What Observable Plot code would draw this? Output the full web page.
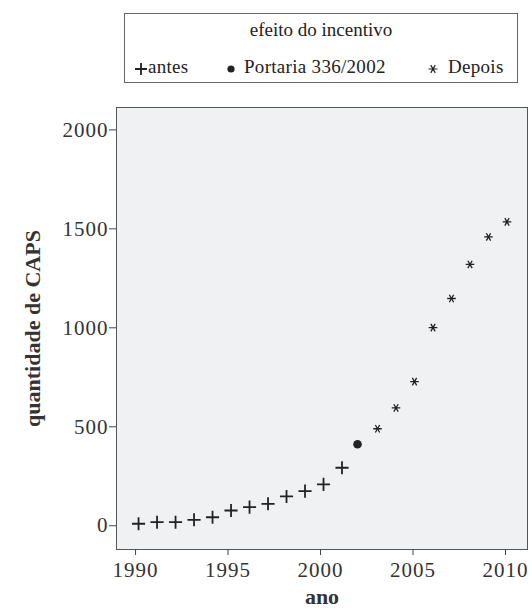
<!DOCTYPE html>
<html>
<head>
<meta charset="utf-8">
<script src="https://cdn.jsdelivr.net/npm/d3@7"></script>
<script src="https://cdn.jsdelivr.net/npm/@observablehq/plot@0.6"></script>
<style>
  body { margin: 0; background: #fff; font-family: "Liberation Serif", "DejaVu Serif", serif; }
  #wrap { position: relative; width: 532px; height: 612px; }
  #legend { position: absolute; left: 124px; top: 13px; width: 394px; height: 70px; box-sizing: border-box;
            border: 1px solid #666; color: #222; font-size: 19px; }
  #legend .title { position: absolute; left: 0; right: 0; top: 5px; text-align: center; }
  #legend .item { position: absolute; top: 42px; white-space: nowrap; letter-spacing: 0.3px; }
  #legend svg { vertical-align: middle; }
  #chart { position: absolute; left: 0; top: 90px; }
  #chart svg g[aria-label$="tick label"] text { letter-spacing: 1px; }
</style>
</head>
<body>
<div id="wrap">
  <div id="legend"></div>
  <div id="chart"></div>
</div>
<script>
// ---- data ----
const legendTitle = "efeito do incentivo";
const groupNames = ["antes", "Portaria 336/2002", "Depois"];

const anosAntes = [1990, 1991, 1992, 1993, 1994, 1995, 1996, 1997, 1998, 1999, 2000, 2001];
const capsAntes = [10, 18, 18, 30, 43, 77, 94, 111, 148, 175, 209, 293];

const anosPortaria = [2002];
const capsPortaria = [412];

const anosDepois = [2003, 2004, 2005, 2006, 2007, 2008, 2009, 2010];
const capsDepois = [490, 595, 728, 1001, 1148, 1320, 1459, 1535];

const xTicks = [1990, 1995, 2000, 2005, 2010];
const yTicks = [0, 500, 1000, 1500, 2000];
const xLabel = "ano";
const yLabel = "quantidade de CAPS";

// ---- build tables ----
const rows = (xs, ys) => xs.map((x, i) => ({ano: x, caps: ys[i]}));
const antes = rows(anosAntes, capsAntes);
const portaria = rows(anosPortaria, capsPortaria);
const depois = rows(anosDepois, capsDepois);

// custom star symbol: horizontal bar with two diagonals
const star = {
  draw(context, size) {
    const r = Math.sqrt(size / Math.PI);
    const c = r * 0.5, s = r * Math.sqrt(3) / 2;
    context.moveTo(-r, 0); context.lineTo(r, 0);
    context.moveTo(-c, -s); context.lineTo(c, s);
    context.moveTo(-c, s); context.lineTo(c, -s);
  }
};

const ink = "#222";
const font = '"Liberation Serif", "DejaVu Serif", serif';

const chart = Plot.plot({
  width: 532,
  height: 522,
  marginTop: 17,
  marginBottom: 63,
  marginLeft: 116,
  marginRight: 5,
  style: {fontFamily: font, fontSize: "21px", color: "#333", background: "transparent"},
  x: {domain: [1988.97, 2011.19], label: null},
  y: {domain: [-120, 2113], label: null},
  marks: [
    Plot.frame({fill: "#f0f1f3", stroke: "#555", strokeWidth: 1}),
    Plot.axisX({ticks: xTicks, tickFormat: "d", tickSize: 6, tickPadding: 7, stroke: "#444", fill: "#333", label: null}),
    Plot.axisY({ticks: yTicks, tickFormat: "d", tickSize: 7, tickPadding: 1, stroke: "#444", fill: "#333", label: null}),
    Plot.dot(antes, {x: "ano", y: "caps", symbol: "plus", r: 4.3, stroke: ink, strokeWidth: 1.8, fill: "none", dx: 3}),
    Plot.dot(portaria, {x: "ano", y: "caps", symbol: "circle", r: 4.3, fill: ink, stroke: "none"}),
    Plot.dot(depois, {x: "ano", y: "caps", symbol: star, r: 4.3, stroke: ink, strokeWidth: 1.3, fill: "none", dx: 1.5}),
    Plot.text([yLabel], {frameAnchor: "left", textAnchor: "middle", lineAnchor: "middle", dx: -84, rotate: -90, fontWeight: "bold", fontSize: 22, fill: "#333"}),
    Plot.text([xLabel], {frameAnchor: "bottom", textAnchor: "middle", dy: 54, fontWeight: "bold", fontSize: 22, fill: "#333"})
  ]
});
document.getElementById("chart").appendChild(chart);

// ---- legend ----
const legend = document.getElementById("legend");
const t = document.createElement("div");
t.className = "title";
t.textContent = legendTitle;
legend.appendChild(t);

function sym(kind) {
  const ns = "http://www.w3.org/2000/svg";
  const svg = document.createElementNS(ns, "svg");
  svg.setAttribute("width", 14); svg.setAttribute("height", 14);
  svg.setAttribute("viewBox", "-7 -7 14 14");
  const p = document.createElementNS(ns, "path");
  if (kind === 0) {
    p.setAttribute("d", "M-6,0H6M0,-6V6");
    p.setAttribute("stroke", ink); p.setAttribute("stroke-width", 1.8); p.setAttribute("fill", "none");
  } else if (kind === 1) {
    const c = d3.path(); c.arc(0, 0, 3.6, 0, 2 * Math.PI);
    p.setAttribute("d", c.toString()); p.setAttribute("fill", ink);
  } else {
    const c = d3.path(); star.draw(c, Math.PI * 4.5 * 4.5);
    p.setAttribute("d", c.toString());
    p.setAttribute("stroke", ink); p.setAttribute("stroke-width", 1.2); p.setAttribute("fill", "none");
  }
  svg.appendChild(p);
  return svg;
}
const itemLeft = [9, 99, 301];
const gaps = ["0px", "6px", "8px"];
groupNames.forEach((name, i) => {
  const d = document.createElement("div");
  d.className = "item";
  d.style.left = itemLeft[i] + "px";
  const s = sym(i);
  s.style.marginRight = gaps[i];
  d.appendChild(s);
  d.appendChild(document.createTextNode(name));
  legend.appendChild(d);
});
</script>
</body>
</html>
